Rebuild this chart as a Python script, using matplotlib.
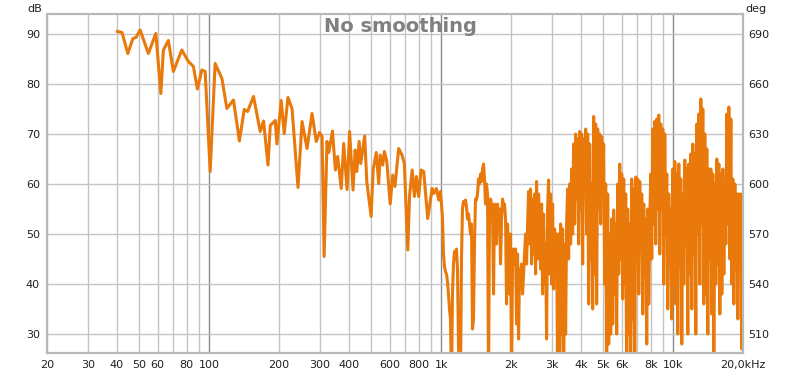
import numpy as np
import matplotlib
matplotlib.use('Agg')
import matplotlib.pyplot as plt

# low frequency part, read point by point (Hz, dB)
lf_freq = [40.2, 42.1, 44.6, 46.9, 48.4, 50.4, 54.7, 58.9, 61.9, 63.5, 66.7, 70.1, 76.2, 81.4, 85.5,
           89.0, 93.0, 96.1, 101, 106.1, 113.5, 119.2, 127.3, 135, 141.6, 146.4, 155.3, 166, 171.6,
           179.3, 183.4, 192.8, 195.9, 204.4, 210.6, 218.6, 227.6, 241.5, 251.4, 264.2, 277.6, 289.5,
           299, 306.7, 313, 322, 328, 340, 350, 358, 371, 380, 393, 403, 417, 426, 433, 443, 450, 468,
           478, 499, 509, 525, 538, 546, 560, 569, 583, 603, 618, 632, 656, 678, 694, 718, 731, 750,
           767, 782, 800, 819, 841, 875, 914, 929, 954, 976, 993]
lf_db = [90.5, 90.3, 86.1, 89.1, 89.3, 90.8, 86.1, 90.1, 78.1, 86.8, 88.7, 82.5, 86.8, 84.5, 83.5,
         79, 82.8, 82.5, 62.5, 84.1, 81.1, 75.1, 76.8, 68.6, 74.9, 74.5, 77.5, 70.5, 72.6,
         63.8, 71.7, 72.7, 68.0, 76.7, 70.1, 77.3, 75.1, 59.3, 72.5, 67.1, 74.1, 68.5,
         70.3, 69.5, 45.5, 68.5, 66.3, 70.6, 62.8, 65.5, 59.1, 68.1, 58.9, 70.5, 58.8, 66.8, 62.5, 68.5, 64.1, 69.6,
         60.5, 53.5, 62.8, 66.3, 60.1, 65.8, 63.8, 66.5, 64.5, 56.0, 61.8, 59.5, 67.1, 65.8, 64.1, 46.8, 57.8, 62.8,
         57.5, 61.5, 57.5, 62.8, 62.5, 53.1, 59.1, 58.1, 59.1, 56.8, 58.5]

# high frequency part: one reading per measurement bin (log spaced bins 1.01k .. 20.2k)
hf_db = [53.5, 46, 43.5, 42.5, 42, 40.5, 38,
         35, 33, 20, 38, 44, 46.5, 45, 47, 43, 28,
         20, 20, 45, 55, 56.5, 56, 56.8, 55.5, 53, 54,
         52, 50, 52, 31, 33, 48, 57, 56.8, 58, 61,
         60, 62, 60.5, 63, 64, 61, 56, 60, 58, 20,
         55, 57, 56, 54, 38, 56, 55, 48, 56, 51,
         55, 44, 53, 57, 55.5, 56, 53, 36, 52, 46,
         38, 50, 20, 45, 47, 44, 47, 32, 46, 29,
         43, 40, 44, 38, 42, 46, 50, 44, 52, 58.5,
         48, 59, 44, 57, 46, 58, 42, 60.5, 45, 58,
         52, 43, 56, 38, 54, 40, 48, 29, 55, 60.8,
         42, 58, 40, 56, 39, 51, 44, 50, 20, 50,
         20, 52, 30, 51, 20, 48, 30, 52, 59, 45,
         60, 48, 63, 50, 68, 52, 70, 57, 69, 48,
         70.5, 55, 70, 44, 69, 58, 71, 50, 70, 36,
         68, 45, 60, 35, 73.5, 42, 72, 36, 71, 55,
         70, 52, 69.5, 58, 68, 40, 60, 20, 58, 28,
         50, 30, 53, 32, 54.8, 38, 52, 30, 60, 42,
         64, 45, 62, 37, 61, 40, 58, 20, 55, 30,
         52, 20, 61, 33, 59, 20, 61.4, 45, 61, 38,
         60.5, 48, 58, 34, 56, 42, 53, 28, 55, 36,
         52, 62, 45, 71, 52, 72.5, 48, 73, 55, 73.8,
         46, 72, 55, 71, 40, 70, 50, 62, 35, 58,
         46, 55, 33, 63, 40, 64.5, 36, 62, 30, 64,
         44, 61, 28, 58, 40, 64.8, 48, 63, 30, 64,
         42, 66, 35, 68, 46, 66, 30, 72, 50, 74,
         40, 77, 52, 75, 36, 70, 38, 67, 30, 63,
         45, 63, 34, 62, 20, 60, 40, 65, 44, 64,
         34, 62, 38, 63, 42, 60, 48, 74, 52, 75.4,
         45, 73, 40, 61, 36, 60, 43, 58, 33, 58,
         50, 58, 27, 57, 20]
hf_freq = np.geomspace(1013, 20170, len(hf_db))

freq = np.concatenate([lf_freq, hf_freq])
db = np.concatenate([lf_db, hf_db])

grid_freqs = [20, 30, 40, 50, 60, 70, 80, 90, 100, 200, 300, 400, 500, 600, 700, 800, 900,
              1000, 2000, 3000, 4000, 5000, 6000, 7000, 8000, 9000, 10000, 20000]
grid_labels = ['20', '30', '40', '50', '60', '', '80', '', '100', '200', '300', '400', '', '600', '', '800', '',
               '1k', '2k', '3k', '4k', '5k', '6k', '', '8k', '', '10k', '20,0kHz']
db_ticks = [30, 40, 50, 60, 70, 80, 90]
deg_ticks = [510, 540, 570, 600, 630, 660, 690]

fig = plt.figure(figsize=(8, 3.74), dpi=100)
ax = fig.add_axes([0.05875, 0.0561, 0.87, 0.9065])

ax.set_xscale('log')
ax.set_xlim(20, 20000)
ax.set_ylim(26.2, 94)

# grid: light gray, decades darker
for f in grid_freqs:
    if f in (100, 1000, 10000):
        ax.axvline(f, color='#8a8a8a', lw=1, zorder=1)
    else:
        ax.axvline(f, color='#c4c4c4', lw=1, zorder=1)
for d in db_ticks:
    ax.axhline(d, color='#c4c4c4', lw=1, zorder=1)

ax.plot(freq, db, color='#e8790a', lw=2.2, zorder=3, solid_joinstyle='round')

ax.set_xticks(grid_freqs)
ax.set_xticklabels(grid_labels)
ax.xaxis.set_minor_locator(matplotlib.ticker.NullLocator())
ax.set_yticks(db_ticks)
ax.tick_params(length=0, labelsize=8, colors='#202020', pad=5)

ax2 = ax.twinx()
ax2.set_ylim(510 + (26.2 - 30) * 3, 510 + (94 - 30) * 3)
ax2.set_yticks(deg_ticks)
ax2.tick_params(length=0, labelsize=8, colors='#202020', pad=4)

for a in (ax, ax2):
    for s in a.spines.values():
        s.set_color('#b8b8b8')
        s.set_linewidth(1.5)

fig.text(0.5, 0.955, 'No smoothing', ha='center', va='top',
         fontsize=14, fontweight='bold', color='#808080', zorder=5)
fig.text(0.034, 0.99, 'dB', ha='left', va='top', fontsize=8, color='#202020')
fig.text(0.932, 0.99, 'deg', ha='left', va='top', fontsize=8, color='#202020')

fig.savefig('out.png', dpi=100)
